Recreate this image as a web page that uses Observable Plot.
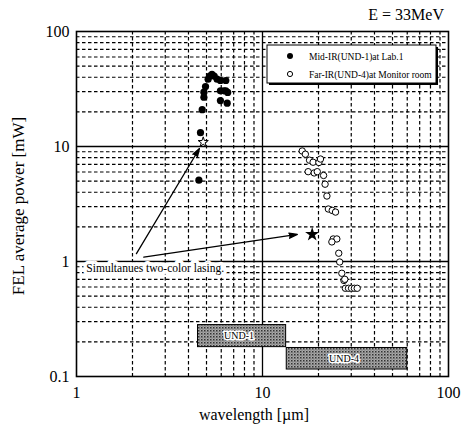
<!DOCTYPE html>
<html>
<head>
<meta charset="utf-8">
<script src="https://cdn.jsdelivr.net/npm/d3@7"></script>
<script src="https://cdn.jsdelivr.net/npm/@observablehq/plot@0.6"></script>
<style>
  html, body { margin: 0; padding: 0; background: white; }
  #chart { width: 468px; height: 426px; }
</style>
</head>
<body>
<div id="chart"></div>
<script>
// ---- data ----
const titleText = "E = 33MeV";
const xLabel = "wavelength [\u00b5m]";
const yLabel = "FEL average power [mW]";
const xTicks = [1, 10, 100];
const yTicks = [0.1, 1, 10, 100];
const xMajor = [10];
const yMajor = [1, 10];
const xMinor = [2, 3, 4, 5, 6, 7, 8, 9, 20, 30, 40, 50, 60, 70, 80, 90];
const yMinor = [0.2, 0.3, 0.4, 0.5, 0.6, 0.7, 0.8, 0.9, 2, 3, 4, 5, 6, 7, 8, 9, 20, 30, 40, 50, 60, 70, 80, 90];

const seriesNames = ["Mid-IR(UND-1)at Lab.1", "Far-IR(UND-4)at Monitor room"];

const midX = [4.55, 4.64, 4.74, 4.84, 4.84, 4.94, 5.1, 5.2, 5.35, 5.5, 5.7, 5.94, 6.35, 5.94, 6.2, 6.35, 6.5, 5.94, 6.46];
const midY = [5.1, 13.2, 20.9, 26.8, 29.7, 33.2, 38.5, 41.0, 42.3, 41.0, 38.5, 37.5, 37.5, 30.5, 30.5, 30.5, 29.5, 25.1, 23.8];

const farX = [16.35, 17.0, 17.9, 18.7, 20.1, 20.5, 17.6, 18.97, 19.7, 21.3, 21.7, 22.2, 22.6, 23.7, 24.7, 24.0, 25.1, 23.6, 25.7, 26.0, 26.7, 27.4, 27.7, 27.9, 29.0, 30.1, 31.2, 32.3];
const farY = [9.14, 8.57, 7.6, 7.3, 7.26, 7.78, 6.04, 5.89, 6.04, 5.6, 4.7, 3.71, 2.86, 2.78, 2.69, 1.57, 1.57, 1.48, 1.18, 0.99, 0.79, 0.684, 0.70, 0.585, 0.585, 0.585, 0.585, 0.585];

const twoColorMidX = [4.8], twoColorMidY = [10.9];
const twoColorFarX = [18.5], twoColorFarY = [1.72];

const undNames = ["UND-1", "UND-4"];
const undX1 = [4.5, 13.5];
const undX2 = [13.4, 60];
const undY1 = [0.18, 0.115];
const undY2 = [0.28, 0.177];

const noteText = ["Simultanues two-color lasing."];
const noteX = [1.13], noteY = [0.87];
const arrowX1 = [2.1, 2.3], arrowY1 = [1.17, 1.09];
const arrowX2 = [4.58, 15.4], arrowY2 = [9.6, 1.72];

// ---- tables ----
const mid = midX.map((x, i) => ({x, y: midY[i]}));
const far = farX.map((x, i) => ({x, y: farY[i]}));
const starMid = twoColorMidX.map((x, i) => ({x, y: twoColorMidY[i]}));
const starFar = twoColorFarX.map((x, i) => ({x, y: twoColorFarY[i]}));
const und = undNames.map((n, i) => ({name: n, x1: undX1[i], x2: undX2[i], y1: undY1[i], y2: undY2[i], xc: Math.sqrt(undX1[i] * undX2[i]), yc: Math.sqrt(undY1[i] * undY2[i])}));
const notes = noteText.map((t, i) => ({t, x: noteX[i], y: noteY[i]}));
const arrows = arrowX1.map((x1, i) => ({x1, y1: arrowY1[i], x2: arrowX2[i], y2: arrowY2[i]}));

const FONT = "Liberation Serif, Times New Roman, serif";
const PATTERN_TAG = "#aaaaab";

const plot = Plot.plot({
  width: 468,
  height: 426,
  marginLeft: 76,
  marginRight: 20,
  marginTop: 31,
  marginBottom: 50,
  style: {fontFamily: FONT, fontSize: "16px", background: "white", color: "black"},
  x: {type: "log", domain: [1, 100], ticks: xTicks, tickSize: 0, tickPadding: 10, tickFormat: d => String(d), label: null},
  y: {type: "log", domain: [0.1, 100], ticks: yTicks, tickSize: 0, tickPadding: 7, tickFormat: d => String(d), label: null},
  marks: [
    Plot.ruleX(xMinor, {stroke: "black", strokeWidth: 1.2, strokeDasharray: "3.5,2.5"}),
    Plot.ruleY(yMinor, {stroke: "black", strokeWidth: 1.2, strokeDasharray: "3.5,2.5"}),
    Plot.ruleX(xMajor, {stroke: "black", strokeWidth: 1.3}),
    Plot.ruleY(yMajor, {stroke: "black", strokeWidth: 1.3}),
    Plot.rect(und, {x1: "x1", x2: "x2", y1: "y1", y2: "y2", fill: PATTERN_TAG, stroke: "black", strokeWidth: 1}),
    Plot.text(und, {x: "xc", y: "yc", text: "name", fontSize: 10, fill: "black", stroke: "white", strokeWidth: 3, dx: -3}),
    Plot.text(notes, {x: "x", y: "y", text: "t", textAnchor: "start", fontSize: 11.5, fill: "black", stroke: "white", strokeWidth: 7}),
    Plot.arrow(arrows, {x1: "x1", y1: "y1", x2: "x2", y2: "y2", stroke: "black", fill: "black", strokeWidth: 1.3, headLength: 10, headAngle: 35}),
    Plot.dot(mid, {x: "x", y: "y", r: 3.6, fill: "black", stroke: "none"}),
    Plot.dot(far, {x: "x", y: "y", r: 3.2, fill: "white", stroke: "black", strokeWidth: 1}),
    Plot.dot(starMid, {x: "x", y: "y", symbol: "star", r: 3.2, fill: "white", stroke: "black", strokeWidth: 1}),
    Plot.dot(starFar, {x: "x", y: "y", symbol: "star", r: 3, fill: "black", stroke: "black"}),
    Plot.frame({stroke: "black", strokeWidth: 1.6})
  ]
});

const svg = d3.select(plot);
// stipple pattern for undulator bands
const defs = svg.insert("defs", ":first-child");
const pat = defs.append("pattern").attr("id", "stip").attr("width", 3).attr("height", 3).attr("patternUnits", "userSpaceOnUse");
pat.append("rect").attr("width", 3).attr("height", 3).attr("fill", "#aaaaaa");
pat.append("rect").attr("width", 1.5).attr("height", 1.5).attr("fill", "#333");
pat.append("rect").attr("x", 1.5).attr("y", 1.5).attr("width", 1).attr("height", 1).attr("fill", "#5a5a5a");
svg.selectAll(`[fill="${PATTERN_TAG}"]`).attr("fill", "url(#stip)");

// axis labels
svg.append("text")
  .attr("transform", "translate(24,206) rotate(-90)")
  .attr("text-anchor", "middle")
  .attr("font-family", FONT).attr("font-size", 17).attr("fill", "black")
  .text(yLabel);
svg.append("text")
  .attr("x", 254).attr("y", 420)
  .attr("text-anchor", "middle")
  .attr("font-family", FONT).attr("font-size", 16).attr("fill", "black")
  .text(xLabel);
// title
svg.append("text")
  .attr("x", 444).attr("y", 20)
  .attr("text-anchor", "end")
  .attr("font-family", FONT).attr("font-size", 16).attr("fill", "black")
  .text(titleText);

// legend
const lg = svg.append("g").attr("font-family", FONT).attr("font-size", 9.5).attr("text-anchor", "start");
lg.append("rect").attr("x", 269).attr("y", 47).attr("width", 169).attr("height", 38).attr("fill", "black");
lg.append("rect").attr("x", 267).attr("y", 45).attr("width", 169).attr("height", 38).attr("fill", "white").attr("stroke", "black").attr("stroke-width", 1);
lg.append("circle").attr("cx", 290).attr("cy", 56).attr("r", 3).attr("fill", "black");
lg.append("circle").attr("cx", 290).attr("cy", 74).attr("r", 2.6).attr("fill", "white").attr("stroke", "black");
lg.append("text").attr("x", 309).attr("y", 59.5).attr("text-anchor", "start").attr("fill", "black").text(seriesNames[0]);
lg.append("text").attr("x", 309).attr("y", 77.5).attr("text-anchor", "start").attr("fill", "black").text(seriesNames[1]);

document.getElementById("chart").appendChild(plot);
</script>
</body>
</html>
